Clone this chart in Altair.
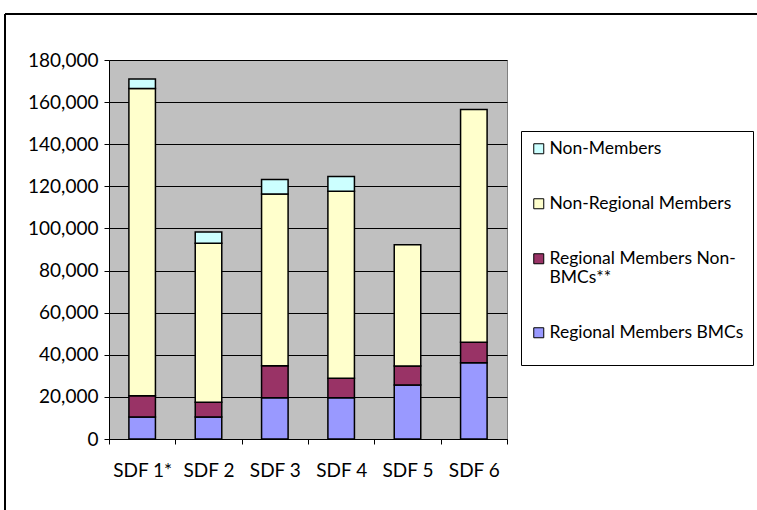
import altair as alt
import pandas as pd

funds = ["SDF 1*", "SDF 2", "SDF 3", "SDF 4", "SDF 5", "SDF 6"]
series = ["Regional Members BMCs", "Regional Members Non-BMCs**",
          "Non-Regional Members", "Non-Members"]
bmcs = [10500, 10500, 19600, 19600, 25700, 36200]
non_bmcs = [10000, 6900, 15200, 9200, 9000, 9800]
non_regional = [146000, 75600, 81500, 88900, 57600, 110500]
non_members = [4500, 5300, 6900, 7000, 0, 0]
colors = ["#9999FF", "#993366", "#FFFFCC", "#CCFFFF"]

rows = []
for i, f in enumerate(funds):
    for k, (s, vals) in enumerate(zip(series, [bmcs, non_bmcs, non_regional, non_members])):
        if vals[i] > 0:
            rows.append({"fund": f, "series": s, "value": vals[i], "order": k})
df = pd.DataFrame(rows)

FONT = "Lato"
legend_order = series[::-1]
legend_colors = colors[::-1]

bars = alt.Chart(df).mark_bar(stroke="black", strokeWidth=1.5, width={"band": 0.4}).encode(
    x=alt.X("fund:N", sort=funds, title=None,
            scale=alt.Scale(paddingInner=0, paddingOuter=0),
            axis=alt.Axis(labelAngle=0, tickBand="extent", grid=False, domainColor="black",
                          tickColor="black", tickSize=5, labelPadding=17,
                          labelFont=FONT, labelFontSize=19, labelColor="black")),
    y=alt.Y("value:Q", stack="zero", title=None,
            scale=alt.Scale(domain=[0, 180000], nice=False),
            axis=alt.Axis(values=list(range(0, 180001, 20000)), format=",.0f",
                          grid=True, gridColor="black", gridOpacity=1, gridWidth=1,
                          domainColor="black", tickColor="black", tickSize=5,
                          labelPadding=6, labelFont=FONT, labelFontSize=19,
                          labelColor="black")),
    color=alt.Color("series:N", title=" ",
                    scale=alt.Scale(domain=legend_order, range=legend_colors),
                    legend=alt.Legend(orient="none", legendX=412, legendY=71,
                                      padding=9, strokeColor="black", fillColor="white",
                                      titleOrient="bottom", titleFontSize=12, titlePadding=4,
                                      symbolType="square", symbolSize=100,
                                      symbolStrokeColor="black", symbolStrokeWidth=1,
                                      symbolOpacity=1,
                                      labelFont=FONT, labelFontSize=17.5, labelColor="black",
                                      labelLimit=300, labelOffset=2, rowPadding=36,
                                      labelExpr="datum.label == 'Regional Members Non-BMCs**' ? ['Regional Members Non-', 'BMCs**'] : datum.label")),
    order=alt.Order("order:Q", sort="ascending"),
)

frame_top = alt.Chart(df).mark_rule(color="black", strokeWidth=2).encode(
    x=alt.value(-104), x2=alt.value(660), y=alt.value(-46))
frame_left = alt.Chart(df).mark_rule(color="black", strokeWidth=2).encode(
    x=alt.value(-104), y=alt.value(-46), y2=alt.value(460))

chart = alt.layer(bars, frame_top, frame_left).properties(
    width=398, height=379,
    autosize=alt.AutoSizeParams(type="none"),
    padding={"left": 109, "top": 60, "right": 250, "bottom": 71},
    background="white",
).configure_view(fill="#C0C0C0", stroke="#808080", strokeWidth=1)

chart.save("out.html", embed_options={"renderer": "svg", "actions": False})
